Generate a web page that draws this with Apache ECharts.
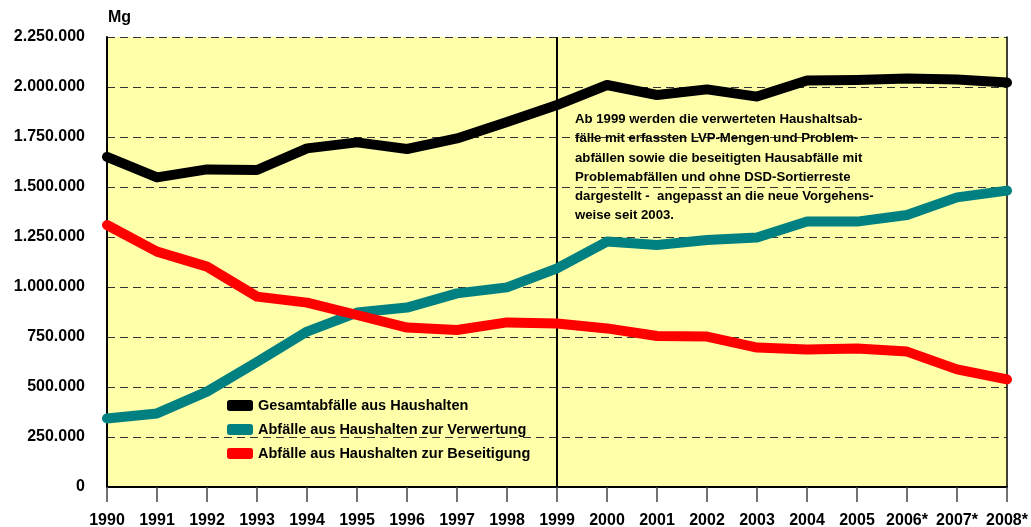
<!DOCTYPE html>
<html>
<head>
<meta charset="utf-8">
<script src="https://cdn.jsdelivr.net/npm/echarts@6/dist/echarts.min.js"></script>
<style>
html,body{margin:0;padding:0;background:#fff;}
#c{width:1031px;height:527px;}
</style>
</head>
<body>
<div id="c"></div>
<script>
const years = ['1990','1991','1992','1993','1994','1995','1996','1997','1998','1999','2000','2001','2002','2003','2004','2005','2006*','2007*','2008*'];
const gesamt = [1651000,1548000,1588000,1585000,1693000,1723000,1690000,1743000,1825000,1910000,2010000,1960000,1988000,1952000,2032000,2035000,2043000,2038000,2022000];
const verwertung = [343000,368000,477000,625000,777000,872000,897000,968000,998000,1093000,1227000,1210000,1235000,1248000,1327000,1327000,1360000,1448000,1482000];
const beseitigung = [1310000,1177000,1102000,952000,922000,860000,797000,785000,823000,818000,793000,755000,752000,697000,688000,693000,677000,588000,538000];
const seriesNames = ['Gesamtabfälle aus Haushalten','Abfälle aus Haushalten zur Verwertung','Abfälle aus Haushalten zur Beseitigung'];
const noteLines = ['Ab 1999 werden die verwerteten Haushaltsab-','fälle mit erfassten LVP-Mengen und Problem-','abfällen sowie die beseitigten Hausabfälle mit','Problemabfällen und ohne DSD-Sortierreste','dargestellt -  angepasst an die neue Vorgehens-','weise seit 2003.'];
const unitLabel = 'Mg';
const markYear = '1999';

const FONT = '"Liberation Sans", Arial, sans-serif';
function fmt(v){ return String(v).replace(/\B(?=(\d{3})+(?!\d))/g,'.'); }

const chart = echarts.init(document.getElementById('c'), null, {renderer:'canvas'});
const lineBase = (name, data, color) => ({
  name, type:'line', data, showSymbol:false, symbol:'none',
  lineStyle:{width:10, color, cap:'round', join:'round'},
  itemStyle:{color}, z:3, silent:true
});
const s1 = lineBase(seriesNames[0], gesamt, '#000000');
s1.markLine = {silent:true, symbol:'none', label:{show:false},
  lineStyle:{color:'#000', width:2, type:'solid'},
  data:[{xAxis:markYear}], z:2};

chart.setOption({
  animation:false,
  backgroundColor:'#ffffff',
  textStyle:{fontFamily:FONT},
  grid:{left:107, right:24, top:37, bottom:40, show:true, backgroundColor:'#ffffaa', borderWidth:0,
    containLabel:false, outerBoundsMode:'none'},
  xAxis:{type:'category', data:years, boundaryGap:false,
    axisLine:{show:true, lineStyle:{color:'#000', width:2}},
    axisTick:{show:true, interval:0, length:15, inside:false, lineStyle:{color:'#444', width:1.5}},
    axisLabel:{color:'#000', fontWeight:'bold', fontSize:16, margin:26, fontFamily:FONT, interval:0},
    splitLine:{show:false}},
  yAxis:[{type:'value', min:0, max:2250000, interval:250000,
    axisLine:{show:true, lineStyle:{color:'#000', width:2}},
    axisTick:{show:false},
    axisLabel:{color:'#000', fontWeight:'bold', fontSize:16, margin:22, fontFamily:FONT, formatter:fmt},
    splitLine:{show:true, lineStyle:{color:'#333', width:1, type:[8,5]}},
    name:unitLabel, nameLocation:'end', nameGap:11,
    nameTextStyle:{color:'#000', fontWeight:'bold', fontSize:16, align:'left', padding:[0,0,0,1], fontFamily:FONT}
  },{type:'value', min:0, max:2250000, interval:250000, position:'right',
    axisLine:{show:true, lineStyle:{color:'#000', width:1.5}},
    axisTick:{show:false}, axisLabel:{show:false}, splitLine:{show:false}}],
  legend:{orient:'vertical', left:222, top:393, itemGap:9, itemWidth:26, itemHeight:11,
    icon:'roundRect',
    textStyle:{color:'#000', fontWeight:'bold', fontSize:14.5, fontFamily:FONT},
    data:seriesNames},
  graphic:[{type:'text', left:575, top:110, z:1, silent:true,
    style:{text:noteLines.join('\n'), fill:'#000', font:'bold 13.2px '+FONT, lineHeight:19.2}}],
  series:[s1, lineBase(seriesNames[1], verwertung, '#008080'), lineBase(seriesNames[2], beseitigung, '#ff0000')]
});
</script>
</body>
</html>
